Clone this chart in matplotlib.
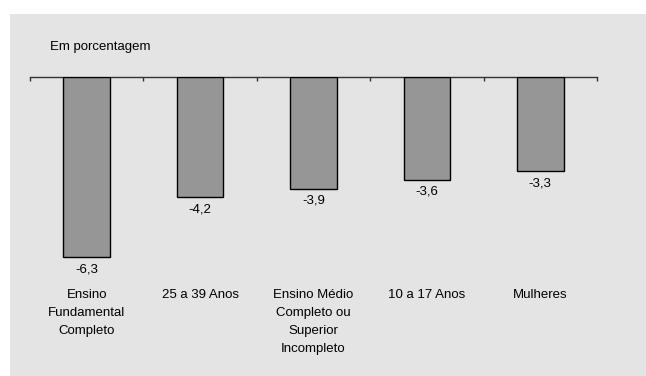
import matplotlib.pyplot as plt
from matplotlib.patches import Rectangle

plt.rcParams["font.family"] = ["Liberation Sans", "DejaVu Sans"]

categorias = [
    "Ensino\nFundamental\nCompleto",
    "25 a 39 Anos",
    "Ensino Médio\nCompleto ou\nSuperior\nIncompleto",
    "10 a 17 Anos",
    "Mulheres",
]
variacao = [-6.3, -4.2, -3.9, -3.6, -3.3]

W, H = 646, 376
fig = plt.figure(figsize=(W / 100, H / 100), dpi=100)
fig.patch.set_facecolor("white")

# painel cinza de fundo
fig.patches.append(Rectangle((10 / W, 0), 1 - 10 / W, 1 - 14 / H,
                             transform=fig.transFigure, facecolor="#e4e4e4",
                             edgecolor="none", zorder=-1))

ax = fig.add_axes([30 / W, 1 - 283 / H, (597 - 30) / W, (283 - 77) / H])
ax.set_facecolor("none")
ax.set_zorder(1)

x = list(range(len(categorias)))
ax.bar(x, variacao, width=0.41, color="#969696", edgecolor="black", linewidth=1.0, zorder=3)

ax.set_xlim(-0.5, len(categorias) - 0.5)
ax.set_ylim(-(283 - 77) / 28.6, 0)

for s in ["left", "right", "bottom"]:
    ax.spines[s].set_visible(False)
ax.spines["top"].set_color("#333333")
ax.spines["top"].set_linewidth(1.0)

ax.set_yticks([])
ax.set_xticks(x)
ax.set_xticklabels(categorias, fontsize=9.5, linespacing=1.7, va="top")
ax.tick_params(axis="x", which="major", length=0, pad=4, colors="black")
ax.set_xticks([i - 0.5 for i in range(len(categorias) + 1)], minor=True)
ax.tick_params(axis="x", which="minor", top=True, bottom=False, direction="in",
               length=3, width=1, color="#333333")

for i, v in enumerate(variacao):
    ax.annotate(f"{v:.1f}".replace(".", ","), (i, v), xytext=(0, -8.6),
                textcoords="offset points", ha="center", va="center", fontsize=9.5)

fig.text(50 / W, 1 - 47 / H, "Em porcentagem", fontsize=9.5, ha="left", va="center")

fig.savefig("out.png", dpi=100)
